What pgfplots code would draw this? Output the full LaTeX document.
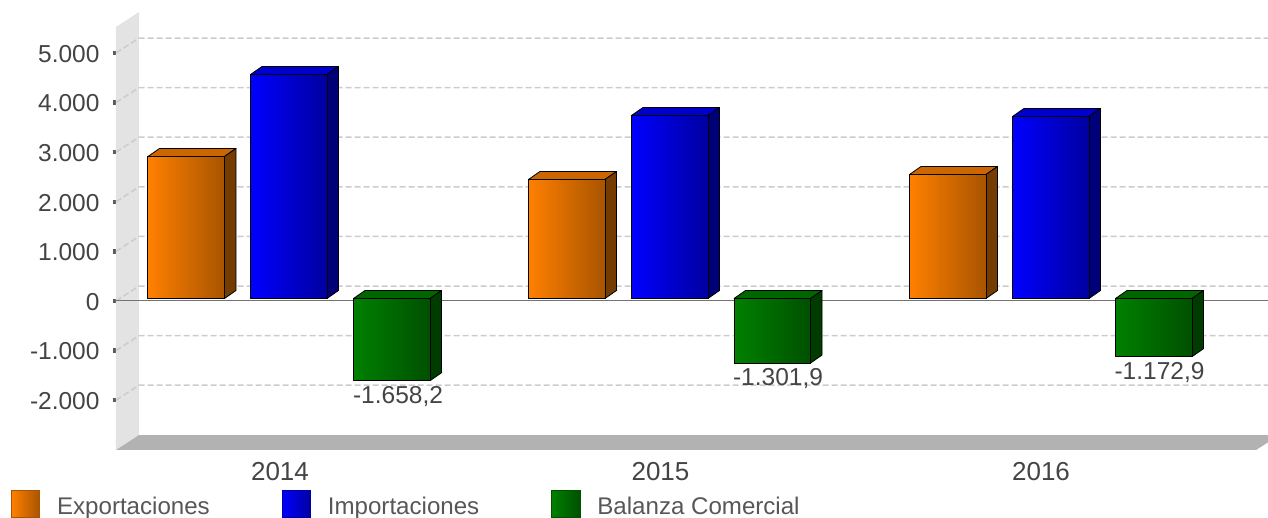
\documentclass[border=0pt]{standalone}
\usepackage{fontspec}
\setmainfont{Liberation Sans}
\usepackage{pgfplots}
\pgfplotsset{compat=1.18}
\definecolor{txt}{HTML}{444444}
\definecolor{wall}{HTML}{E3E3E3}
\definecolor{floorc}{HTML}{B2B2B2}
\definecolor{gridc}{HTML}{CCCCCC}
\definecolor{oL}{HTML}{FF8000}\definecolor{oR}{HTML}{A85400}\definecolor{oT}{HTML}{CC6600}\definecolor{oS}{HTML}{743C00}
\definecolor{bL}{HTML}{0000FF}\definecolor{bR}{HTML}{0000A0}\definecolor{bT}{HTML}{0000CC}\definecolor{bS}{HTML}{000078}
\definecolor{gL}{HTML}{008000}\definecolor{gR}{HTML}{005000}\definecolor{gT}{HTML}{006600}\definecolor{gS}{HTML}{003C00}
\newcommand{\fnt}{\fontsize{24.5}{28}\selectfont}
\newcommand{\fntx}{\fontsize{26}{28}\selectfont}
\newcommand{\fntl}{\fontsize{24.1}{28}\selectfont}
% #1 left edge, #2 value, #3 colour prefix
\newcommand{\boxbar}[3]{%
  \pgfmathsetmacro{\xb}{#1+76.5}%
  \pgfmathsetmacro{\xc}{#1+88}%
  \pgfmathsetmacro{\xd}{#1+11.5}%
  \pgfmathsetmacro{\tp}{max(#2,0)}%
  \pgfmathsetmacro{\bt}{min(#2,0)}%
  \pgfmathsetmacro{\tq}{\tp+161.3}%
  \pgfmathsetmacro{\bq}{\bt+161.3}%
  \addplot[forget plot,yshift=2.5pt,fill=#3T,draw=black,line width=.8pt,line join=round] coordinates {(#1,\tp)(\xb,\tp)(\xc,\tq)(\xd,\tq)} --cycle;
  \addplot[forget plot,yshift=2.5pt,fill=#3S,draw=black,line width=.8pt,line join=round] coordinates {(\xb,\tp)(\xc,\tq)(\xc,\bq)(\xb,\bt)} --cycle;
  \addplot[forget plot,yshift=2.5pt,left color=#3L,right color=#3R,draw=black,line width=1pt,line join=round] coordinates {(#1,0)(\xb,0)(\xb,#2)(#1,#2)} --cycle;
}
\newcommand{\swatch}[1]{\addlegendimage{legend image code/.code={\path[left color=#1L,right color=#1R,draw=#1R,line width=.6pt] (0pt,-13.5pt) rectangle (28.5pt,13.5pt);}}}
\newcommand{\lgt}[1]{\hspace{15pt}\raisebox{-3.5pt}{#1}}
\begin{document}
\begin{tikzpicture}
\useasboundingbox (-116pt,-68pt) rectangle (1152pt,450pt);
\begin{axis}[
  scale only axis,width=1152pt,height=450pt,
  xmin=116,xmax=1268,ymin=-3004,ymax=6068.5,
  axis line style={draw=none},
  tick pos=left,
  tick align=outside,
  xtick={280,660.5,1041},xticklabels={2014,2015,2016},
  xtick style={draw=none},
  ytick={-2000,-1000,0,1000,2000,3000,4000,5000},
  ytick style={line width=4.5pt,color=black!65},
  major tick length=3.3pt,
  scaled y ticks=false,
  /pgf/number format/assume math mode=true,
  /pgf/number format/1000 sep={.},
  tick label style={text=txt,inner sep=0pt},
  yticklabel style={font=\fnt,anchor=east,xshift=-13pt,yshift=-.8pt},
  xticklabel style={font=\fntx,anchor=center,yshift=-18.5pt},
  legend style={at={(axis cs:116,-3004)},anchor=north west,xshift=-105pt,yshift=-40.5pt,
    draw=none,fill=none,font=\fntl,text=txt!90,inner sep=0pt,outer sep=0pt,
    legend columns=3,
    /tikz/every odd column/.append style={column sep=0pt},
    /tikz/every even column/.append style={column sep=70pt}},
  legend cell align=left,
]
% wall and floor
\addplot[forget plot,fill=wall,draw=none] coordinates {(116,-3004)(139,-2702)(139,5827)(116,5524)} --cycle;
\addplot[forget plot,fill=floorc,draw=none] coordinates {(116,-3004)(139,-2702)(1268,-2702)(1268,-2850)(1256,-3004)} --cycle;
% back grid
\pgfplotsset{gl/.style={forget plot,color=gridc,line width=1.5pt,dash pattern=on 6pt off 3pt}}
\addplot[gl] coordinates {(116,5000)(139,5302)(1268,5302)};
\addplot[gl] coordinates {(116,4000)(139,4302)(1268,4302)};
\addplot[gl] coordinates {(116,3000)(139,3302)(1268,3302)};
\addplot[gl] coordinates {(116,2000)(139,2302)(1268,2302)};
\addplot[gl] coordinates {(116,1000)(139,1302)(1268,1302)};
\addplot[gl] coordinates {(116,0)(139,302)(1268,302)};
\addplot[gl] coordinates {(116,-1000)(139,-698)(1268,-698)};
\addplot[gl] coordinates {(116,-2000)(139,-1698)(1268,-1698)};
\addplot[forget plot,color=black!55,line width=1pt] coordinates {(116,0)(1268,0)};
% bars
\boxbar{148}{2863}{o}
\boxbar{250.5}{4516}{b}
\boxbar{353.5}{-1658.2}{g}
\boxbar{528.5}{2400}{o}
\boxbar{631.5}{3690}{b}
\boxbar{734}{-1301.9}{g}
\boxbar{909.5}{2500}{o}
\boxbar{1012.5}{3670}{b}
\boxbar{1115.5}{-1172.9}{g}
% data labels
\addplot[forget plot,draw=none,mark=none,point meta=explicit symbolic,
  nodes near coords,
  every node near coord/.append style={font=\fnt,text=txt,inner sep=0pt,anchor=north,yshift=-3pt}]
  table[meta=label,row sep=\\] {
  x y label\\
  398 -1658.2 {-1.658,2}\\
  778 -1301.9 {-1.301,9}\\
  1159.5 -1172.9 {-1.172,9}\\
};
\swatch{o}\addlegendentry{\lgt{Exportaciones}}
\swatch{b}\addlegendentry{\lgt{Importaciones}}
\swatch{g}\addlegendentry{\lgt{Balanza Comercial}}
\end{axis}
\end{tikzpicture}
\end{document}
